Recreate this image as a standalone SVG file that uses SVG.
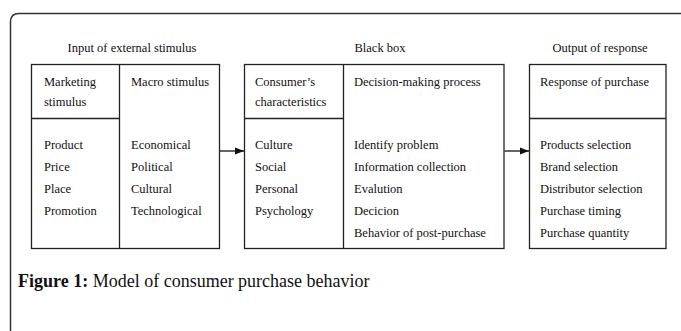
<svg xmlns="http://www.w3.org/2000/svg" width="681" height="331" viewBox="0 0 681 331">
<defs>
<style>
.t{font-family:"Liberation Serif","Times New Roman",serif;font-size:12.5px;fill:#111}
.h{text-anchor:middle}
.b{fill:none;stroke:#222;stroke-width:1.3}
.c{font-family:"Liberation Serif","Times New Roman",serif;font-size:18px;fill:#111}
</style>
<marker id="ah" viewBox="0 0 10 10" refX="10" refY="5" markerWidth="9" markerHeight="9" markerUnits="userSpaceOnUse" orient="auto"><path d="M0,1 L10,5 L0,9 Z" fill="#111"/></marker>
</defs>
<rect width="681" height="331" fill="#fff"/>
<path d="M10.5,331 V22 Q10.5,13.5 19,13.5 H681" fill="none" stroke="#333" stroke-width="1.5"/>
<g id="input">
<text class="t h" x="132" y="52">Input of external stimulus</text>
<rect class="b" x="31.5" y="64.5" width="188" height="184"/>
<line class="b" x1="119.5" y1="64.5" x2="119.5" y2="248.5"/>
<line class="b" x1="31.5" y1="118.5" x2="119.5" y2="118.5"/>
<text class="t" x="44" y="86">Marketing</text>
<text class="t" x="44" y="106">stimulus</text>
<text class="t" x="44" y="149">Product</text>
<text class="t" x="44" y="171">Price</text>
<text class="t" x="44" y="193">Place</text>
<text class="t" x="44" y="215">Promotion</text>
<text class="t" x="131" y="86">Macro stimulus</text>
<text class="t" x="131" y="149">Economical</text>
<text class="t" x="131" y="171">Political</text>
<text class="t" x="131" y="193">Cultural</text>
<text class="t" x="131" y="215">Technological</text>
</g>
<g id="blackbox">
<text class="t h" x="380" y="52">Black box</text>
<rect class="b" x="244.5" y="64.5" width="259.5" height="184"/>
<line class="b" x1="343.5" y1="64.5" x2="343.5" y2="248.5"/>
<line class="b" x1="244.5" y1="118.5" x2="343.5" y2="118.5"/>
<text class="t" x="255" y="86">Consumer’s</text>
<text class="t" x="255" y="106">characteristics</text>
<text class="t" x="255" y="149">Culture</text>
<text class="t" x="255" y="171">Social</text>
<text class="t" x="255" y="193">Personal</text>
<text class="t" x="255" y="215">Psychology</text>
<text class="t" x="354" y="86">Decision-making process</text>
<text class="t" x="354" y="149">Identify problem</text>
<text class="t" x="354" y="171">Information collection</text>
<text class="t" x="354" y="193">Evalution</text>
<text class="t" x="354" y="215">Decicion</text>
<text class="t" x="354" y="237">Behavior of post-purchase</text>
</g>
<g id="output">
<text class="t h" x="600" y="52">Output of response</text>
<rect class="b" x="529.5" y="64.5" width="136.5" height="184"/>
<line class="b" x1="529.5" y1="118.5" x2="666" y2="118.5"/>
<text class="t" x="540" y="86">Response of purchase</text>
<text class="t" x="540" y="149">Products selection</text>
<text class="t" x="540" y="171">Brand selection</text>
<text class="t" x="540" y="193">Distributor selection</text>
<text class="t" x="540" y="215">Purchase timing</text>
<text class="t" x="540" y="237">Purchase quantity</text>
</g>
<g id="connectors">
<line x1="220" y1="151" x2="244" y2="151" stroke="#111" stroke-width="1.3" marker-end="url(#ah)"/>
<line x1="504.5" y1="151" x2="529" y2="151" stroke="#111" stroke-width="1.3" marker-end="url(#ah)"/>
</g>
<text class="c" x="18" y="287"><tspan font-weight="bold">Figure 1:</tspan> Model of consumer purchase behavior</text>
</svg>
